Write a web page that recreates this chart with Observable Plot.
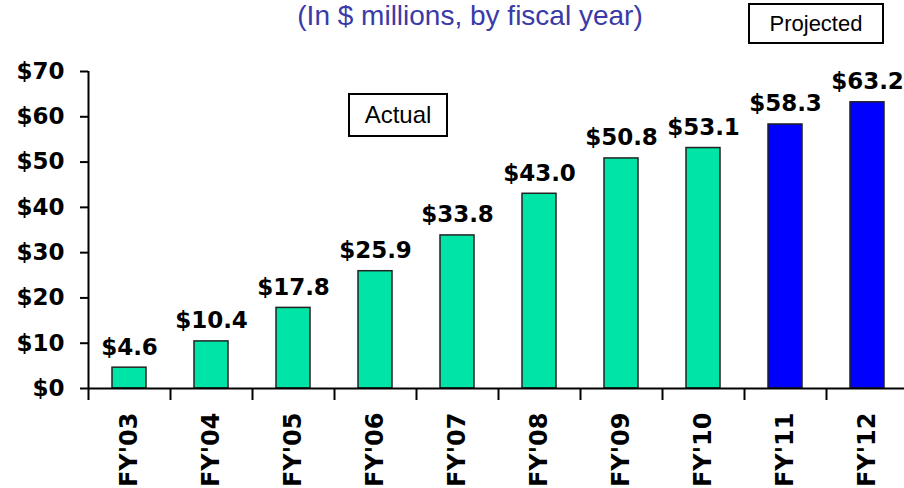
<!DOCTYPE html>
<html>
<head>
<meta charset="utf-8">
<script src="https://cdn.jsdelivr.net/npm/d3@7"></script>
<script src="https://cdn.jsdelivr.net/npm/@observablehq/plot@0.6"></script>
<style>
  html, body { margin: 0; padding: 0; background: #fff; }
  #wrap { position: relative; width: 904px; height: 488px; overflow: hidden; }
  #title { position: absolute; left: 0; width: 940px; top: 0px; text-align: center;
           font-family: "Liberation Sans", Arial, sans-serif; font-size: 28px; color: #3a3aa8; line-height: 32px; }
  .box { position: absolute; border: 2px solid #000; background: #fff; box-sizing: border-box;
         font-family: "Liberation Sans", Arial, sans-serif; color: #000; text-align: center; }
  #actual { left: 348px; top: 93px; width: 100px; height: 44px; font-size: 24px; line-height: 40px; }
  #projected { left: 748px; top: 3px; width: 136px; height: 41px; font-size: 22px; line-height: 37px; }
</style>
</head>
<body>
<div id="wrap">
  <div id="chart"></div>
  <div id="title">(In $ millions, by fiscal year)</div>
  <div class="box" id="actual">Actual</div>
  <div class="box" id="projected">Projected</div>
</div>
<script>
const categories = ["FY'03","FY'04","FY'05","FY'06","FY'07","FY'08","FY'09","FY'10","FY'11","FY'12"];
const values = [4.6, 10.4, 17.8, 25.9, 33.8, 43.0, 50.8, 53.1, 58.3, 63.2];
const status = ["Actual","Actual","Actual","Actual","Actual","Actual","Actual","Actual","Projected","Projected"];
const valueLabels = ["$4.6","$10.4","$17.8","$25.9","$33.8","$43.0","$50.8","$53.1","$58.3","$63.2"];
const yTicks = [0, 10, 20, 30, 40, 50, 60, 70];

const data = categories.map((c, i) => ({cat: c, value: values[i], status: status[i], label: valueLabels[i]}));

const heavy = "'DejaVu Sans', Verdana, sans-serif";

const chart = Plot.plot({
  width: 904,
  height: 488,
  marginLeft: 88,
  marginRight: -4,
  marginTop: 71,
  marginBottom: 100,
  style: {fontFamily: heavy, background: "#fff", color: "#000"},
  x: {domain: categories, paddingInner: 0.585, paddingOuter: 0.2925, axis: null, label: null},
  y: {domain: [0, 70], axis: null, label: null},
  color: {domain: ["Actual", "Projected"], range: ["#00E4A8", "#0000FF"]},
  marks: [
    Plot.barY(data, {x: "cat", y: "value", fill: "status", stroke: "#222", strokeWidth: 1.5}),
    Plot.ruleY([0], {stroke: "#000", strokeWidth: 2}),
    Plot.ruleX([categories[0]], {x: d => d, dx: -41, y1: 70, y2: 0, insetBottom: -12, stroke: "#000", strokeWidth: 2}),
    Plot.ruleX(categories.slice(1), {x: d => d, dx: -41, y1: 0, y2: 0, insetBottom: -12, stroke: "#000", strokeWidth: 2}),
    Plot.axisY({ticks: yTicks, tickSize: 8, tickPadding: 16, strokeWidth: 2, label: null,
      tickFormat: d => "$" + d, fontSize: 23, fontWeight: "bold", fill: "#000"}),
    Plot.axisX({tickSize: 0, tickRotate: -90, tickPadding: 24, label: null, fontSize: 24, fontWeight: "bold", fill: "#000"}),
    Plot.text(data, {x: "cat", y: "value", text: "label", dy: -13, lineAnchor: "bottom",
      fontSize: 23, fontWeight: "bold", fill: "#000"})
  ]
});
document.getElementById("chart").appendChild(chart);
</script>
</body>
</html>
